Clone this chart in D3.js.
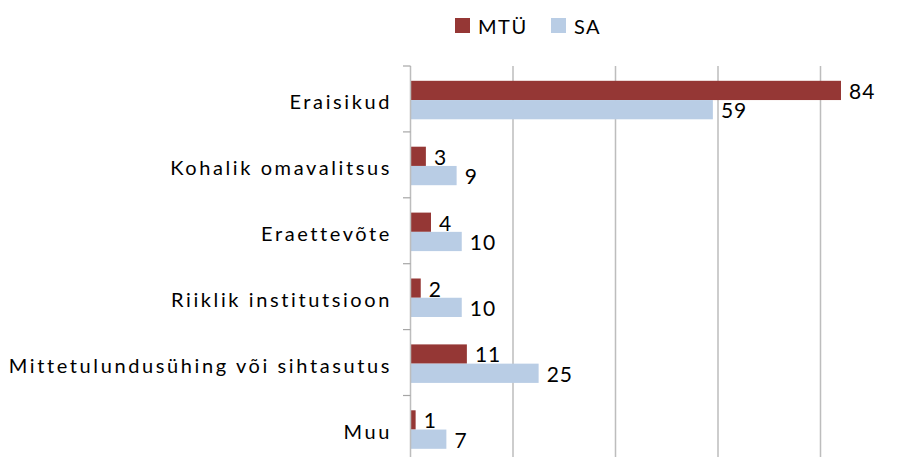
<!DOCTYPE html>
<html>
<head>
<meta charset="utf-8">
<script src="https://cdnjs.cloudflare.com/ajax/libs/d3/7.8.5/d3.min.js"></script>
<style>
  body { margin: 0; background: #fff; }
  svg { display: block; }
  text { font-family: Lato, "Open Sans", sans-serif; fill: #000; }
</style>
</head>
<body>
<svg id="chart"></svg>
<script>
// data
var categories = ["Eraisikud", "Kohalik omavalitsus", "Eraettevõte", "Riiklik institutsioon", "Mittetulundusühing või sihtasutus", "Muu"];
var seriesNames = ["MTÜ", "SA"];
var mtuValues = [84, 3, 4, 2, 11, 1];
var saValues = [59, 9, 10, 10, 25, 7];
var gridTicks = [0, 20, 40, 60, 80, 100];
var colors = ["#953735", "#b9cde5"];

var w = 909;
var h = 457;
var plot = { left: 410.5, top: 66, right: 923, bottom: 461.4 };

var svg = d3.select("#chart")
  .attr("width", w)
  .attr("height", h);

var xScale = d3.scaleLinear()
  .domain([0, 100])
  .range([plot.left, plot.right]);

var yScale = d3.scaleBand()
  .domain(categories)
  .range([plot.top, plot.bottom]);

var ySeries = d3.scaleBand()
  .domain(seriesNames)
  .range([14.8, 53.3]);

//gridlines
svg.append("g")
  .selectAll("line")
  .data(gridTicks.slice(1))
  .enter()
  .append("line")
  .attr("x1", function(d) { return xScale(d); })
  .attr("x2", function(d) { return xScale(d); })
  .attr("y1", plot.top)
  .attr("y2", plot.bottom)
  .attr("stroke", "#bdbdbd")
  .attr("stroke-width", 1.5);

//rows
var rows = categories.map(function(c, i) {
  return { name: c, values: [mtuValues[i], saValues[i]] };
});

var groups = svg.selectAll(".row")
  .data(rows)
  .enter()
  .append("g")
  .attr("class", "row")
  .attr("transform", function(d) { return "translate(0," + yScale(d.name) + ")"; });

groups.selectAll("rect")
  .data(function(d) { return d.values; })
  .enter()
  .append("rect")
  .attr("x", xScale(0))
  .attr("y", function(d, i) { return ySeries(seriesNames[i]); })
  .attr("width", function(d) { return xScale(d) - xScale(0); })
  .attr("height", ySeries.bandwidth())
  .attr("fill", function(d, i) { return colors[i]; });

groups.selectAll(".val")
  .data(function(d) { return d.values; })
  .enter()
  .append("text")
  .attr("class", "val")
  .text(function(d) { return d; })
  .attr("x", function(d) { return xScale(d) + 8; })
  .attr("y", function(d, i) { return ySeries(seriesNames[i]) + ySeries.bandwidth() / 2; })
  .attr("dy", "0.4em")
  .attr("font-size", "21px")
  .attr("letter-spacing", "1px");

//y axis (letter-spacing trails the last glyph, so padding is a bit smaller)
var yAxis = d3.axisLeft(yScale).tickSize(0).tickPadding(18.5);
var axisG = svg.append("g")
  .attr("transform", "translate(" + plot.left + ",0)")
  .call(yAxis);
axisG.select(".domain").remove();
axisG.selectAll("text")
  .attr("font-size", "20px")
  .attr("font-family", "Lato, sans-serif")
  .attr("letter-spacing", "2.6px")
  .attr("dy", "0.52em")
  .attr("fill", "#000");

svg.append("line")
  .attr("x1", plot.left).attr("x2", plot.left)
  .attr("y1", plot.top).attr("y2", plot.bottom)
  .attr("stroke", "#bdbdbd")
  .attr("stroke-width", 1.5);

//tick marks at band boundaries
svg.append("g")
  .selectAll("line")
  .data(categories)
  .enter()
  .append("line")
  .attr("x1", plot.left - 7.5)
  .attr("x2", plot.left)
  .attr("y1", function(d) { return yScale(d); })
  .attr("y2", function(d) { return yScale(d); })
  .attr("stroke", "#a6a6a6")
  .attr("stroke-width", 1.2);

//legend
var legendX = [455, 551];
var legend = svg.append("g");
seriesNames.forEach(function(name, i) {
  legend.append("rect")
    .attr("x", legendX[i])
    .attr("y", 18)
    .attr("width", 15)
    .attr("height", 15)
    .attr("fill", colors[i]);
  legend.append("text")
    .text(name)
    .attr("x", legendX[i] + 23)
    .attr("y", 34.3)
    .attr("font-size", "20px")
    .attr("letter-spacing", "1.5px");
});
</script>
</body>
</html>
